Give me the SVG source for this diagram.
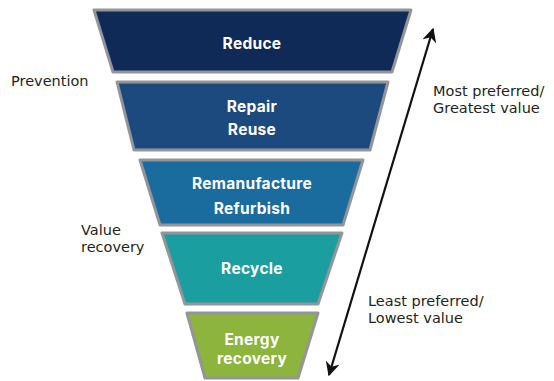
<svg xmlns="http://www.w3.org/2000/svg" width="554" height="381" viewBox="0 0 554 381">
  <defs>
    <marker id="head" viewBox="0 0 10 10" refX="9" refY="5" markerWidth="6.5" markerHeight="6.5" orient="auto-start-reverse" markerUnits="strokeWidth">
      <path d="M0,0 L10,5 L0,10 L3,5 Z" fill="#111"/>
    </marker>
  </defs>
  <style>
    .tier { stroke: #939598; stroke-width: 3; stroke-linejoin: round; }
    .lbl { font-family: Inter, "Open Sans", "Liberation Sans", sans-serif; font-weight: bold; font-size: 15.5px; letter-spacing: 0.3px; fill: #ffffff; text-anchor: middle; }
    .side { font-family: "DejaVu Sans", "Open Sans", "Liberation Sans", sans-serif; font-size: 14.5px; fill: #231f20; }
    .axis { stroke: #111; stroke-width: 2.2; fill: none; }
  </style>
  <rect width="554" height="381" fill="#ffffff"/>

  <g id="reduce">
    <polygon class="tier" points="94,10 411,10 392,72 113,72" fill="#0f2a57"/>
    <text class="lbl" x="252" y="49">Reduce</text>
  </g>
  <g id="repair-reuse">
    <polygon class="tier" points="117,82 388,82 370,150 134,150" fill="#1c4a7e"/>
    <text class="lbl" x="252" y="112">Repair</text>
    <text class="lbl" x="252" y="135">Reuse</text>
  </g>
  <g id="remanufacture-refurbish">
    <polygon class="tier" points="140,160 363,160 343,225 160,225" fill="#1b6c9e"/>
    <text class="lbl" x="252" y="189">Remanufacture</text>
    <text class="lbl" x="252" y="214">Refurbish</text>
  </g>
  <g id="recycle">
    <polygon class="tier" points="162,233 342,233 318,304 185,304" fill="#1a9e9f"/>
    <text class="lbl" x="252" y="274">Recycle</text>
  </g>
  <g id="energy-recovery">
    <polygon class="tier" points="187,313 318,313 298,378 205,378" fill="#8db43d"/>
    <text class="lbl" x="252" y="345">Energy</text>
    <text class="lbl" x="252" y="364">recovery</text>
  </g>

  <g id="connectors">
    <line class="axis" x1="329" y1="375" x2="433" y2="29" marker-start="url(#head)" marker-end="url(#head)"/>
  </g>

  <g id="side-labels">
    <text class="side" x="11" y="86">Prevention</text>
    <text class="side" x="81" y="235">Value</text>
    <text class="side" x="81" y="252">recovery</text>
    <text class="side" x="433" y="96">Most preferred/</text>
    <text class="side" x="433" y="113">Greatest value</text>
    <text class="side" x="368" y="306">Least preferred/</text>
    <text class="side" x="368" y="323">Lowest value</text>
  </g>
</svg>
